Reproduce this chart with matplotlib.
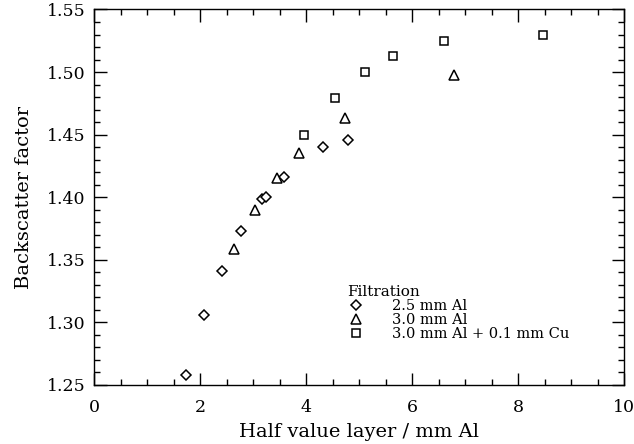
import matplotlib
matplotlib.use("Agg")
import matplotlib.pyplot as plt
from matplotlib.ticker import MultipleLocator

# Data
hvl_25 = [1.74, 2.08, 2.42, 2.77, 3.17, 3.24, 3.59, 4.32, 4.79]
bsf_25 = [1.258, 1.306, 1.341, 1.373, 1.399, 1.400, 1.416, 1.440, 1.446]

hvl_30 = [2.64, 3.04, 3.45, 3.87, 4.73, 6.79]
bsf_30 = [1.359, 1.390, 1.415, 1.435, 1.463, 1.498]

hvl_cu = [3.96, 4.55, 5.12, 5.65, 6.61, 8.48]
bsf_cu = [1.450, 1.479, 1.500, 1.513, 1.525, 1.530]

labels = ["2.5 mm Al", "3.0 mm Al", "3.0 mm Al + 0.1 mm Cu"]

plt.rcParams['font.family'] = ['DejaVu Serif']

fig = plt.figure(figsize=(6.34, 4.44), dpi=100)
ax = fig.add_axes([94/634, 1-385/444, 530/634, (385-9.5)/444])

ax.plot(hvl_25, bsf_25, linestyle='none', marker='D', ms=5, mfc='white', mec='black', mew=1.1, label=labels[0])
ax.plot(hvl_30, bsf_30, linestyle='none', marker='^', ms=6.5, mfc='white', mec='black', mew=1.1, label=labels[1])
ax.plot(hvl_cu, bsf_cu, linestyle='none', marker='s', ms=6.3, mfc='white', mec='black', mew=1.1, label=labels[2])

ax.set_xlim(0, 10)
ax.set_ylim(1.25, 1.55)
ax.xaxis.set_major_locator(MultipleLocator(2))
ax.xaxis.set_minor_locator(MultipleLocator(0.5))
ax.yaxis.set_major_locator(MultipleLocator(0.05))
ax.yaxis.set_minor_locator(MultipleLocator(0.01))
ax.yaxis.set_major_formatter(matplotlib.ticker.FormatStrFormatter('%.2f'))
ax.tick_params(which='both', direction='in', top=True, right=True, width=1)
ax.tick_params(which='major', length=9, labelsize=12.5)
ax.tick_params(axis='x', which='major', pad=10)
ax.tick_params(axis='y', which='major', pad=6)
ax.tick_params(which='minor', length=4)
for s in ax.spines.values():
    s.set_linewidth(1)

ax.set_xlabel("Half value layer / mm Al", fontsize=14, labelpad=5)
ax.set_ylabel("Backscatter factor", fontsize=14, labelpad=10)

leg = ax.legend(title="Filtration", loc='upper left', bbox_to_anchor=((347-94)/530, (385-285)/375.5),
                frameon=False, fontsize=10.5, title_fontsize=11, handlelength=1.2,
                handletextpad=1.9, labelspacing=0.0, borderpad=0, borderaxespad=0)
leg._legend_box.align = "left"

fig.savefig("out.png", dpi=100)
